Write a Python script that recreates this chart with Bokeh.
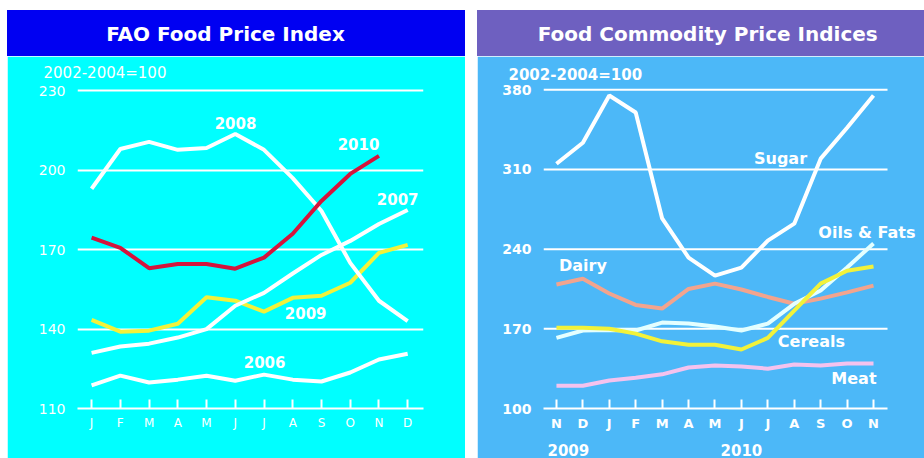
from bokeh.plotting import figure
from bokeh.layouts import row, column
from bokeh.models import FixedTicker, Label, Range1d, LinearAxis, Title
from bokeh.core.properties import value
from bokeh.embed import file_html
from bokeh.resources import INLINE

# ---------------- data: FAO Food Price Index ----------------
months_l = ["J", "F", "M", "A", "M", "J", "J", "A", "S", "O", "N", "D"]
fpi_2006 = [118.7, 122.4, 119.8, 120.9, 122.4, 120.5, 122.8, 120.9, 120.2, 123.6, 128.5, 130.7]
fpi_2007 = [131.0, 133.4, 134.5, 136.8, 140.0, 148.8, 153.7, 161.0, 168.0, 173.3, 179.7, 185.0]
fpi_2008 = [193.0, 208.0, 210.7, 207.7, 208.4, 213.7, 207.7, 197.0, 184.6, 165.0, 150.7, 143.0]
fpi_2009 = [143.5, 139.0, 139.4, 142.0, 152.0, 150.7, 146.6, 151.8, 152.6, 157.5, 168.8, 171.8]
fpi_2010 = [174.5, 170.7, 163.0, 164.6, 164.6, 162.8, 167.0, 176.0, 188.4, 198.6, 205.4]
yticks_l = [110, 140, 170, 200, 230]

# ---------------- data: Food Commodity Price Indices ----------------
months_r = ["N", "D", "J", "F", "M", "A", "M", "J", "J", "A", "S", "O", "N"]
years_r = ["2009", "2010"]
sugar = [315.0, 333.5, 375.0, 360.0, 267.0, 232.6, 216.8, 223.8, 247.5, 262.4, 319.5, 346.7, 375.0]
oils = [162.0, 168.5, 169.0, 168.5, 175.5, 174.6, 172.0, 168.5, 174.6, 192.0, 203.6, 223.8, 245.0]
dairy = [209.0, 214.0, 201.0, 191.0, 187.8, 205.0, 209.7, 204.5, 198.0, 192.0, 196.5, 202.0, 208.0]
cereals = [171.0, 171.0, 170.0, 165.8, 159.0, 156.0, 156.0, 151.8, 162.0, 186.0, 209.7, 221.0, 224.7]
meat = [120.0, 120.0, 124.6, 127.0, 130.0, 136.0, 137.8, 137.0, 135.0, 138.6, 137.8, 139.5, 139.5]
yticks_r = [100, 170, 240, 310, 380]

# ---------------- styling ----------------
CYAN = "#00FFFF"
BLUE_BAR = "#0000F2"
SKY = "#4CB8F8"
PURPLE_BAR = "#6E60C0"
FONT = "DejaVu Sans"


def title_fig(w, txt, bg, xc):
    t = figure(width=w, height=46, x_range=Range1d(0, 1), y_range=Range1d(0, 1),
               output_backend="svg", toolbar_location=None, min_border=0)
    try:
        t.frame_align = False
    except Exception:
        pass
    t.axis.visible = False
    t.grid.visible = False
    t.outline_line_color = bg
    t.outline_line_width = 2
    t.background_fill_color = bg
    t.border_fill_color = bg
    t.text(x=[xc], y=[0.5], text=[txt], text_color="white", text_font=value(FONT),
           text_font_size="20px", text_font_style="bold", text_align="center",
           text_baseline="middle")
    return t


def style_axes(p, bg, bold, size_y, size_x):
    p.background_fill_color = bg
    p.border_fill_color = bg
    p.outline_line_color = bg
    p.outline_line_width = 2
    p.yaxis.axis_line_color = None
    p.yaxis.major_tick_line_color = None
    p.yaxis.minor_tick_line_color = None
    p.yaxis.major_label_text_color = "white"
    p.yaxis.major_label_text_font = FONT
    p.yaxis.major_label_text_font_size = size_y
    p.yaxis.major_label_text_font_style = bold
    p.yaxis.major_label_standoff = 6
    p.xaxis.axis_line_color = "white"
    p.xaxis.axis_line_width = 2
    p.xaxis.major_tick_line_color = "white"
    p.xaxis.major_tick_line_width = 2
    p.xaxis.major_tick_in = 9
    p.xaxis.major_tick_out = 0
    p.xaxis.minor_tick_line_color = None
    p.xaxis.major_label_text_color = "white"
    p.xaxis.major_label_text_font = FONT
    p.xaxis.major_label_text_font_size = size_x
    p.xaxis.major_label_text_font_style = bold
    p.xaxis.major_label_standoff = 7


def add_label(p, x, y, txt, size):
    p.add_layout(Label(x=x, y=y, text=txt, text_color="white", text_font=FONT,
                       text_font_size=size, text_font_style="bold",
                       text_align="center", text_baseline="middle"))


# ---------------- left panel ----------------
tl = title_fig(458, "FAO Food Price Index", BLUE_BAR, 0.476)

pl = figure(width=458, height=402, x_range=Range1d(-0.49, 11.55), y_range=Range1d(110, 232),
            output_backend="svg", toolbar_location=None,
            min_border_left=70, min_border_right=42, min_border_top=29, min_border_bottom=50)
style_axes(pl, CYAN, "normal", "14px", "12px")
pl.xgrid.visible = False
pl.ygrid.grid_line_color = "white"
pl.ygrid.grid_line_width = 2
pl.yaxis.ticker = FixedTicker(ticks=yticks_l)
pl.xaxis.ticker = FixedTicker(ticks=list(range(len(months_l))))
pl.xaxis.major_label_overrides = {i: m for i, m in enumerate(months_l)}
pl.title = Title(text="2002-2004=100", align="left", offset=-34, standoff=7,
                 text_color="white", text_font=FONT, text_font_size="15px",
                 text_font_style="normal")

xl = list(range(12))
pl.line(xl, fpi_2006, line_color="white", line_width=4)
pl.line(xl, fpi_2009, line_color="#F2F23A", line_width=4)
pl.line(xl, fpi_2007, line_color="white", line_width=4)
pl.line(xl, fpi_2008, line_color="white", line_width=4)
pl.line(xl[:len(fpi_2010)], fpi_2010, line_color="#D4143C", line_width=4)

add_label(pl, 5.01, 218.0, "2008", "15px")
add_label(pl, 9.29, 210.0, "2010", "15px")
add_label(pl, 10.65, 189.3, "2007", "15px")
add_label(pl, 7.45, 145.9, "2009", "15px")
add_label(pl, 6.02, 127.7, "2006", "15px")

# ---------------- right panel ----------------
tr = title_fig(447, "Food Commodity Price Indices", PURPLE_BAR, 0.515)

grid_x0, grid_x1 = -0.49, 12.53
pr = figure(width=447, height=402, x_range=Range1d(-0.49, 13.93), y_range=Range1d(100, 382),
            output_backend="svg", toolbar_location=None,
            min_border_left=66, min_border_right=0, min_border_top=31, min_border_bottom=50)
style_axes(pr, SKY, "bold", "14px", "13px")
pr.grid.visible = False
pr.yaxis.ticker = FixedTicker(ticks=yticks_r)
pr.xaxis.ticker = FixedTicker(ticks=list(range(len(months_r))))
pr.xaxis.major_label_overrides = {i: m for i, m in enumerate(months_r)}
pr.xaxis.bounds = (grid_x0, grid_x1)
pr.title = Title(text="2002-2004=100", align="left", offset=-35, standoff=7,
                 text_color="white", text_font=FONT, text_font_size="15px",
                 text_font_style="bold")

year_axis = LinearAxis(ticker=FixedTicker(ticks=[0.45, 7]),
                       major_label_overrides={0.45: years_r[0], 7: years_r[1]},
                       axis_line_color=None, major_tick_line_color=None,
                       minor_tick_line_color=None, major_label_standoff=4,
                       major_label_text_color="white", major_label_text_font=FONT,
                       major_label_text_font_size="15px", major_label_text_font_style="bold")
pr.add_layout(year_axis, "below")

pr.segment(x0=[grid_x0] * len(yticks_r[1:]), x1=[grid_x1] * len(yticks_r[1:]),
           y0=yticks_r[1:], y1=yticks_r[1:], line_color="white", line_width=2)

xr = list(range(13))
pr.line(xr, meat, line_color="#F4C2EE", line_width=4)
pr.line(xr, dairy, line_color="#F2A48E", line_width=4)
pr.line(xr, oils, line_color="#E4FFFF", line_width=4)
pr.line(xr, cereals, line_color="#F2F23A", line_width=4)
pr.line(xr, sugar, line_color="white", line_width=4)

add_label(pr, 8.48, 319.5, "Sugar", "16px")
add_label(pr, 11.75, 254.5, "Oils & Fats", "16px")
add_label(pr, 1.0, 225.5, "Dairy", "16px")
add_label(pr, 9.65, 158.8, "Cereals", "16px")
add_label(pr, 11.26, 126.3, "Meat", "16px")

page = row(column(tl, pl, spacing=0), column(tr, pr, spacing=0), spacing=12,
           margin=(10, 0, 0, 7))
open("out.html", "w").write(file_html(page, INLINE))
